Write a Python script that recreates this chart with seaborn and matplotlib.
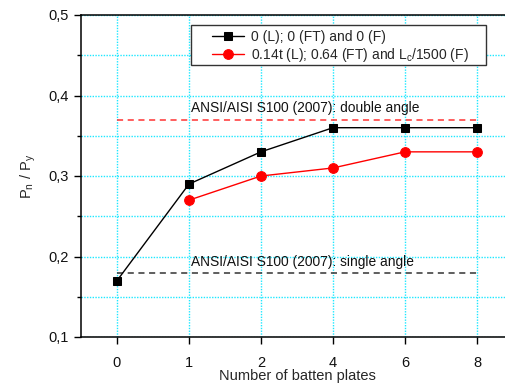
import numpy as np
import pandas as pd
import matplotlib
matplotlib.use("Agg")
import matplotlib.pyplot as plt
import seaborn as sns
from matplotlib.patches import Rectangle
from matplotlib.ticker import MultipleLocator, FuncFormatter

# data
batten_plates = ["0", "1", "2", "4", "6", "8"]
no_imperfection = [0.17, 0.29, 0.33, 0.36, 0.36, 0.36]
with_imperfection = [np.nan, 0.27, 0.30, 0.31, 0.33, 0.33]
aisi_double = 0.37
aisi_single = 0.18

label_black = "0 (L); 0 (FT) and 0 (F)"
label_red = "0.14t (L); 0.64 (FT) and L$_c$/1500 (F)"

sns.set_theme(style="ticks")
plt.rcParams["font.family"] = ["Liberation Sans", "DejaVu Sans"]
plt.rcParams["mathtext.fontset"] = "custom"
plt.rcParams["mathtext.rm"] = "Liberation Sans"
plt.rcParams["mathtext.it"] = "Liberation Sans"

pos = np.arange(len(batten_plates))
df = pd.DataFrame({"pos": pos, "black": no_imperfection, "red": with_imperfection})

fig = plt.figure(figsize=(5.06, 3.88), dpi=100)
ax = fig.add_axes([81 / 506, 51 / 388, 432 / 506, 322 / 388])

# grid
gcol = "#1ee8ff"
ax.set_axisbelow(True)
ax.grid(True, which="both", axis="y", color=gcol, linestyle=(0, (1, 1)), linewidth=1)
ax.grid(True, which="major", axis="x", color=gcol, linestyle=(0, (1, 1)), linewidth=1)

# code reference lines
ax.plot([pos[0], pos[-1]], [aisi_double, aisi_double], color="#ff3333", ls=(0, (4, 3)), lw=1.1)
ax.plot([pos[0], pos[-1]], [aisi_single, aisi_single], color="#333333", ls=(0, (4, 3)), lw=1.1)
ax.text(1.03, 0.379, "ANSI/AISI S100 (2007): double angle", fontsize=9.9, color="#111111")
ax.text(1.03, 0.188, "ANSI/AISI S100 (2007): single angle", fontsize=9.9, color="#111111")

sns.lineplot(data=df, x="pos", y="black", ax=ax, color="black", lw=1.0,
             marker="s", markersize=6, markeredgecolor="black", label=label_black)
sns.lineplot(data=df.dropna(), x="pos", y="red", ax=ax, color="red", lw=1.0,
             marker="o", markersize=7, markeredgecolor="red", label=label_red)

ax.set_xlim(-0.5, 5.5)
ax.set_ylim(0.1, 0.5)
ax.set_xticks(pos)
ax.set_xticklabels(batten_plates)
ax.yaxis.set_major_locator(MultipleLocator(0.1))
ax.yaxis.set_minor_locator(MultipleLocator(0.05))
ax.yaxis.set_major_formatter(FuncFormatter(lambda v, p: f"{v:.1f}".replace(".", ",")))
ax.tick_params(axis="both", which="major", direction="out", length=5, width=1,
               labelsize=10.5, color="black", labelcolor="#111111")
ax.tick_params(axis="x", pad=9)
ax.tick_params(axis="y", which="minor", direction="out", length=3, width=1, color="black")

for s in ax.spines.values():
    s.set_color("black")
    s.set_linewidth(1.1)

ax.set_xlabel("Number of batten plates", fontsize=10.5, labelpad=-1)
ax.set_ylabel("P$_n$ / P$_y$", fontsize=10.5, labelpad=8)

# legend without its own frame; frame drawn as a box in figure pixels
leg = ax.legend(loc="upper left", bbox_to_anchor=(209 / 506, 1 - 27 / 388),
                bbox_transform=fig.transFigure, borderaxespad=0, fontsize=10,
                frameon=False, handlelength=2.35, borderpad=0.2,
                labelspacing=0.15, handletextpad=0.5)
fig.add_artist(Rectangle((191 / 506, 1 - 65 / 388), 295 / 506, 40 / 388,
                         transform=fig.transFigure, fill=True, facecolor="white",
                         edgecolor="#333333", linewidth=1, zorder=2))
leg.set_zorder(3)
leg.remove()
fig.add_artist(leg)

fig.savefig("out.png", dpi=100)
